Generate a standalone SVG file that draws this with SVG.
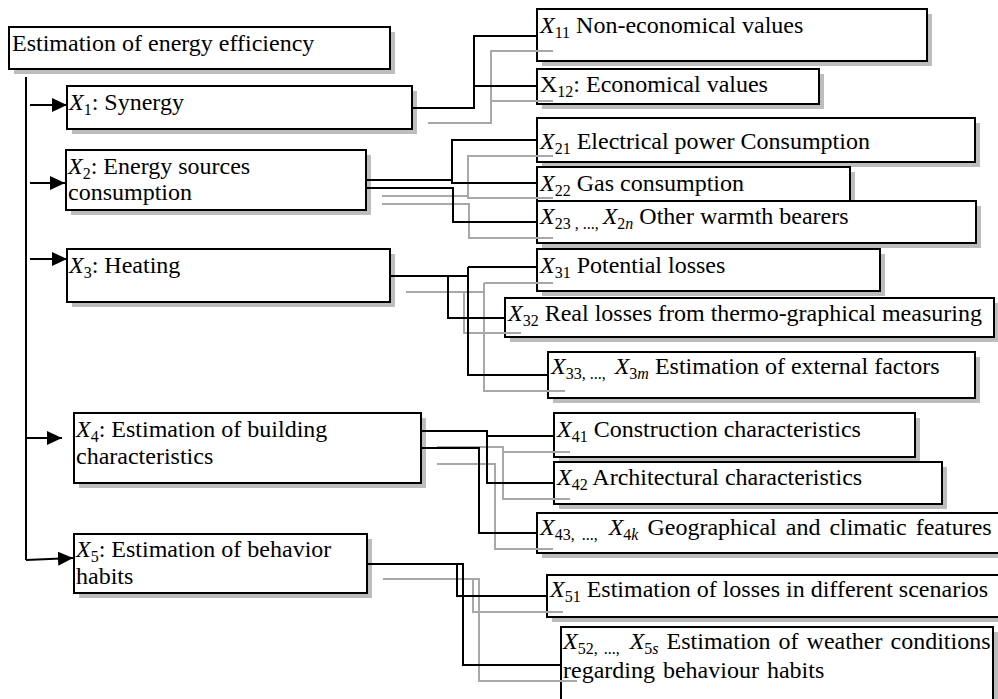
<svg xmlns="http://www.w3.org/2000/svg" width="998" height="699" viewBox="0 0 998 699">
<defs>
<style>
.b{fill:#fff;stroke:#000;stroke-width:2}
.s{fill:#bdbdbd}
.c{fill:none;stroke:#000;stroke-width:2}
.g{fill:none;stroke:#a8a8a8;stroke-width:2}
.a{fill:none;stroke:#000;stroke-width:2}
text{font-family:"Liberation Serif","Times New Roman",serif;font-size:24px;fill:#000}
.i{font-style:italic}
.u{font-size:16px}
</style>
<marker id="ah" markerUnits="userSpaceOnUse" markerWidth="16" markerHeight="14" refX="15" refY="7" orient="auto">
<path d="M0,0 L15,7 L0,14 z" fill="#000"/>
</marker>
</defs>
<rect width="998" height="699" fill="#fff"/>

<g id="root">
<rect class="s" x="14" y="32" width="381" height="42"/>
<rect class="b" x="9" y="27" width="381" height="42"/>
<text x="12" y="51">Estimation of energy efficiency</text>
</g>

<g id="x1">
<rect class="s" x="72" y="91" width="345" height="43"/>
<rect class="b" x="67" y="86" width="345" height="43"/>
<text x="69" y="110"><tspan class="i">X</tspan><tspan class="u" dy="5">1</tspan><tspan dy="-5">: Synergy</tspan></text>
</g>

<g id="x2">
<rect class="s" x="71" y="155" width="300" height="60"/>
<rect class="b" x="66" y="150" width="300" height="60"/>
<text x="68" y="174"><tspan class="i">X</tspan><tspan class="u" dy="5">2</tspan><tspan dy="-5">: Energy sources</tspan></text>
<text x="68" y="200">consumption</text>
</g>

<g id="x3">
<rect class="s" x="72" y="254" width="323" height="53"/>
<rect class="b" x="67" y="249" width="323" height="53"/>
<text x="69" y="273"><tspan class="i">X</tspan><tspan class="u" dy="5">3</tspan><tspan dy="-5">: Heating</tspan></text>
</g>

<g id="x4">
<rect class="s" x="79" y="418" width="347" height="70"/>
<rect class="b" x="74" y="413" width="347" height="70"/>
<text x="76" y="437"><tspan class="i">X</tspan><tspan class="u" dy="5">4</tspan><tspan dy="-5">: Estimation of building</tspan></text>
<text x="76" y="464">characteristics</text>
</g>

<g id="x5">
<rect class="s" x="79" y="539" width="293" height="59"/>
<rect class="b" x="74" y="534" width="293" height="59"/>
<text x="76" y="557"><tspan class="i">X</tspan><tspan class="u" dy="5">5</tspan><tspan dy="-5">: Estimation of behavior</tspan></text>
<text x="76" y="584">habits</text>
</g>

<g id="x11">
<rect class="s" x="542" y="14" width="390" height="52"/>
<rect class="b" x="537" y="9" width="390" height="52"/>
<text x="540" y="33"><tspan class="i">X</tspan><tspan class="u" dy="5">11</tspan><tspan dy="-5"> Non-economical values</tspan></text>
</g>

<g id="x12">
<rect class="s" x="542" y="74" width="282" height="35"/>
<rect class="b" x="537" y="69" width="282" height="35"/>
<text x="540" y="92">X<tspan class="u" dy="5">12</tspan><tspan dy="-5">: Economical values</tspan></text>
</g>

<g id="x21">
<rect class="s" x="542" y="123" width="438" height="44"/>
<rect class="b" x="537" y="118" width="438" height="44"/>
<text x="540" y="149"><tspan class="i">X</tspan><tspan class="u" dy="5">21</tspan><tspan dy="-5"> Electrical power Consumption</tspan></text>
</g>

<g id="x22">
<rect class="s" x="542" y="172" width="313" height="34"/>
<rect class="b" x="537" y="167" width="313" height="34"/>
<text x="540" y="191"><tspan class="i">X</tspan><tspan class="u" dy="5">22</tspan><tspan dy="-5"> Gas consumption</tspan></text>
</g>

<g id="x23">
<rect class="s" x="542" y="206" width="439" height="42"/>
<rect class="b" x="537" y="201" width="439" height="42"/>
<text x="540" y="224"><tspan class="i">X</tspan><tspan class="u" dy="5">23 , ..., </tspan><tspan class="i" dy="-5">X</tspan><tspan class="u" dy="5">2<tspan class="i">n</tspan></tspan><tspan dy="-5"> Other warmth bearers</tspan></text>
</g>

<g id="x31">
<rect class="s" x="542" y="254" width="343" height="42"/>
<rect class="b" x="537" y="249" width="343" height="42"/>
<text x="540" y="273"><tspan class="i">X</tspan><tspan class="u" dy="5">31</tspan><tspan dy="-5"> Potential losses</tspan></text>
</g>

<g id="x32">
<rect class="s" x="510" y="303" width="489" height="39"/>
<rect class="b" x="505" y="298" width="489" height="39"/>
<text x="508" y="321"><tspan class="i">X</tspan><tspan class="u" dy="5">32</tspan><tspan dy="-5"> Real losses from thermo-graphical measuring</tspan></text>
</g>

<g id="x33">
<rect class="s" x="553" y="357" width="427" height="46"/>
<rect class="b" x="548" y="352" width="427" height="46"/>
<text x="551" y="374"><tspan class="i">X</tspan><tspan class="u" dy="5">33, ..., </tspan><tspan class="i" dy="-5" dx="5">X</tspan><tspan class="u" dy="5">3<tspan class="i">m</tspan></tspan><tspan dy="-5"> Estimation of external factors</tspan></text>
</g>

<g id="x41">
<rect class="s" x="559" y="418" width="361" height="44"/>
<rect class="b" x="554" y="413" width="361" height="44"/>
<text x="557" y="437"><tspan class="i">X</tspan><tspan class="u" dy="5">41</tspan><tspan dy="-5"> Construction characteristics</tspan></text>
</g>

<g id="x42">
<rect class="s" x="559" y="467" width="388" height="42"/>
<rect class="b" x="554" y="462" width="388" height="42"/>
<text x="557" y="485"><tspan class="i">X</tspan><tspan class="u" dy="5">42</tspan><tspan dy="-5"> Architectural characteristics</tspan></text>
</g>

<g id="x43">
<rect class="s" x="542" y="518" width="473" height="40"/>
<rect class="b" x="537" y="513" width="473" height="40"/>
<text x="540" y="535" word-spacing="3"><tspan class="i">X</tspan><tspan class="u" dy="5">43, ..., </tspan><tspan class="i" dy="-5" dx="4">X</tspan><tspan class="u" dy="5">4<tspan class="i">k</tspan></tspan><tspan dy="-5"> Geographical and climatic features</tspan></text>
</g>

<g id="x51">
<rect class="s" x="552" y="580" width="463" height="42"/>
<rect class="b" x="547" y="575" width="463" height="42"/>
<text x="550" y="597"><tspan class="i">X</tspan><tspan class="u" dy="5">51</tspan><tspan dy="-5"> Estimation of losses in different scenarios</tspan></text>
</g>

<g id="x52">
<rect class="s" x="566" y="632" width="432" height="93"/>
<rect class="b" x="561" y="627" width="432" height="93"/>
<text x="563" y="649" word-spacing="2"><tspan class="i">X</tspan><tspan class="u" dy="5">52, ..., </tspan><tspan class="i" dy="-5" dx="4">X</tspan><tspan class="u" dy="5">5<tspan class="i">s</tspan></tspan><tspan dy="-5"> Estimation of weather conditions</tspan></text>
<text x="563" y="678" word-spacing="2">regarding behaviour habits</text>
</g>

<g id="connectors">
<g id="shadow-lines">
<path class="g" d="M428,123 H491 V51 H553 M491,101 H553"/>
<path class="g" d="M382,196 H468 V156 H553 M468,196 V198 H553 M382,204 H469 V238 H553"/>
<path class="g" d="M406,292 H484 M484,283 H553 M484,283 V391 H565 M464,292 V333 H521"/>
<path class="g" d="M437,447 H503 V499 H570 M503,452 H570 M437,464 H495 V549 H553"/>
<path class="g" d="M383,579 H479 V681 H577 M473,579 V612 H563"/>
</g>
<path class="c" d="M412,108 H474 V36 H537 M474,86 H537"/>
<path class="c" d="M366,180 H452 V140 H537 M452,180 V183 H537 M366,188 H453 V222 H537"/>
<path class="c" d="M390,276 H468 M468,267 H537 M468,267 V375 H548 M448,276 V318 H505"/>
<path class="c" d="M421,431 H487 V483 H554 M487,436 H554 M421,448 H479 V533 H537"/>
<path class="c" d="M367,564 H463 V665 H561 M457,564 V596 H547"/>
<path class="a" d="M26,77 V560"/>
<path class="a" d="M30,105 H67" marker-end="url(#ah)"/>
<path class="a" d="M30,183 H65" marker-end="url(#ah)"/>
<path class="a" d="M30,259 H67" marker-end="url(#ah)"/>
<path class="a" d="M26,438 H62" marker-end="url(#ah)"/>
<path class="a" d="M26,560 L73,558" marker-end="url(#ah)"/>
</g>
</svg>
